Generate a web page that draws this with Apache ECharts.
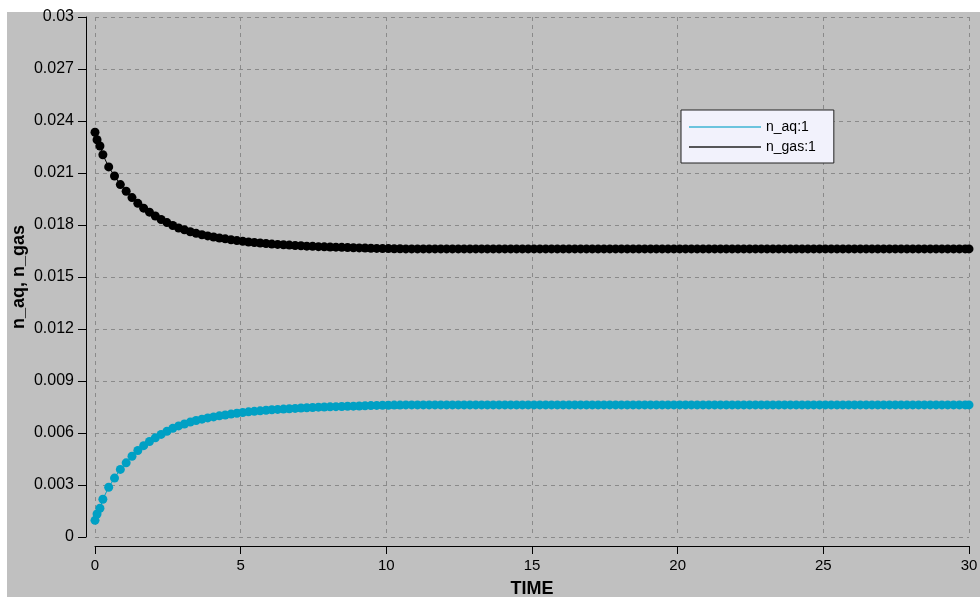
<!DOCTYPE html>
<html>
<head>
<meta charset="utf-8">
<script src="https://cdn.jsdelivr.net/npm/echarts@6/dist/echarts.min.js"></script>
<style>
html,body{margin:0;padding:0;background:#ffffff;}
#bg{position:absolute;left:7px;top:12px;width:973px;height:585px;background:#c0c0c0;}
#chart{position:absolute;left:0;top:0;width:980px;height:597px;}
</style>
</head>
<body>
<div id="bg"></div>
<div id="chart"></div>
<script>
const timeValues = [
0, 0.07, 0.17, 0.27, 0.47, 0.67, 0.87, 1.07, 1.27, 1.47,
1.67, 1.87, 2.07, 2.27, 2.47, 2.67, 2.87, 3.07, 3.27, 3.47,
3.67, 3.87, 4.07, 4.27, 4.47, 4.67, 4.87, 5.07, 5.27, 5.47,
5.67, 5.87, 6.07, 6.27, 6.47, 6.67, 6.87, 7.07, 7.27, 7.47,
7.67, 7.87, 8.07, 8.27, 8.47, 8.67, 8.87, 9.07, 9.27, 9.47,
9.67, 9.87, 10.07, 10.27, 10.47,
10.67, 10.87, 11.07, 11.27, 11.47, 11.67, 11.87, 12.07, 12.27, 12.47,
12.67, 12.87, 13.07, 13.27, 13.47, 13.67, 13.87, 14.07, 14.27, 14.47,
14.67, 14.87, 15.07, 15.27, 15.47, 15.67, 15.87, 16.07, 16.27, 16.47,
16.67, 16.87, 17.07, 17.27, 17.47, 17.67, 17.87, 18.07, 18.27, 18.47,
18.67, 18.87, 19.07, 19.27, 19.47, 19.67, 19.87, 20.07, 20.27, 20.47,
20.67, 20.87, 21.07, 21.27, 21.47, 21.67, 21.87, 22.07, 22.27, 22.47,
22.67, 22.87, 23.07, 23.27, 23.47, 23.67, 23.87, 24.07, 24.27, 24.47,
24.67, 24.87, 25.07, 25.27, 25.47, 25.67, 25.87, 26.07, 26.27, 26.47,
26.67, 26.87, 27.07, 27.27, 27.47, 27.67, 27.87, 28.07, 28.27, 28.47,
28.67, 28.87, 29.07, 29.27, 29.47, 29.67, 29.87, 30
];

const nGas = [
0.02335, 0.02292, 0.02256, 0.02205, 0.02135, 0.02083, 0.02033, 0.01995, 0.01958, 0.01925,
0.01897, 0.01874, 0.01852, 0.01832, 0.01814, 0.01797, 0.01783, 0.01772, 0.01761, 0.01752,
0.01744, 0.01737, 0.01731, 0.01725, 0.01720, 0.01715, 0.01710, 0.01706, 0.01702, 0.01699,
0.01696, 0.01693, 0.01690, 0.01688, 0.01686, 0.01684, 0.01682, 0.01680, 0.01678, 0.01677,
0.01675, 0.01674, 0.01673, 0.01672, 0.01671, 0.01670, 0.01669, 0.01668, 0.01667, 0.01666,
0.01665, 0.01664, 0.01664, 0.01663, 0.01663,
0.01662, 0.01662, 0.01662, 0.01662, 0.01662, 0.01662, 0.01662, 0.01662, 0.01662, 0.01662,
0.01662, 0.01662, 0.01662, 0.01662, 0.01662, 0.01662, 0.01662, 0.01662, 0.01662, 0.01662,
0.01662, 0.01662, 0.01662, 0.01662, 0.01662, 0.01662, 0.01662, 0.01662, 0.01662, 0.01662,
0.01662, 0.01662, 0.01662, 0.01662, 0.01662, 0.01662, 0.01662, 0.01662, 0.01662, 0.01662,
0.01662, 0.01662, 0.01662, 0.01662, 0.01662, 0.01662, 0.01662, 0.01662, 0.01662, 0.01662,
0.01662, 0.01662, 0.01662, 0.01662, 0.01662, 0.01662, 0.01662, 0.01662, 0.01662, 0.01662,
0.01662, 0.01662, 0.01662, 0.01662, 0.01662, 0.01662, 0.01662, 0.01662, 0.01662, 0.01662,
0.01662, 0.01662, 0.01662, 0.01662, 0.01662, 0.01662, 0.01662, 0.01662, 0.01662, 0.01662,
0.01662, 0.01662, 0.01662, 0.01662, 0.01662, 0.01662, 0.01662, 0.01662, 0.01662, 0.01662,
0.01662, 0.01662, 0.01662, 0.01662, 0.01662, 0.01662, 0.01662, 0.01662
];

const nAq = [
0.00096, 0.00133, 0.00166, 0.00218, 0.00287, 0.00340, 0.00390, 0.00428, 0.00466, 0.00499,
0.00527, 0.00551, 0.00572, 0.00592, 0.00610, 0.00627, 0.00641, 0.00652, 0.00663, 0.00672,
0.00680, 0.00687, 0.00693, 0.00699, 0.00704, 0.00709, 0.00714, 0.00718, 0.00722, 0.00725,
0.00728, 0.00731, 0.00734, 0.00736, 0.00738, 0.00740, 0.00742, 0.00744, 0.00746, 0.00747,
0.00749, 0.00750, 0.00751, 0.00752, 0.00753, 0.00754, 0.00755, 0.00756, 0.00757, 0.00758,
0.00759, 0.00760, 0.00760, 0.00761, 0.00761,
0.00762, 0.00762, 0.00762, 0.00762, 0.00762, 0.00762, 0.00762, 0.00762, 0.00762, 0.00762,
0.00762, 0.00762, 0.00762, 0.00762, 0.00762, 0.00762, 0.00762, 0.00762, 0.00762, 0.00762,
0.00762, 0.00762, 0.00762, 0.00762, 0.00762, 0.00762, 0.00762, 0.00762, 0.00762, 0.00762,
0.00762, 0.00762, 0.00762, 0.00762, 0.00762, 0.00762, 0.00762, 0.00762, 0.00762, 0.00762,
0.00762, 0.00762, 0.00762, 0.00762, 0.00762, 0.00762, 0.00762, 0.00762, 0.00762, 0.00762,
0.00762, 0.00762, 0.00762, 0.00762, 0.00762, 0.00762, 0.00762, 0.00762, 0.00762, 0.00762,
0.00762, 0.00762, 0.00762, 0.00762, 0.00762, 0.00762, 0.00762, 0.00762, 0.00762, 0.00762,
0.00762, 0.00762, 0.00762, 0.00762, 0.00762, 0.00762, 0.00762, 0.00762, 0.00762, 0.00762,
0.00762, 0.00762, 0.00762, 0.00762, 0.00762, 0.00762, 0.00762, 0.00762, 0.00762, 0.00762,
0.00762, 0.00762, 0.00762, 0.00762, 0.00762, 0.00762, 0.00762, 0.00762
];

const seriesNames = ['n_aq:1', 'n_gas:1'];
const xTitle = 'TIME';
const yTitle = 'n_aq, n_gas';

const FONT = '"Liberation Sans", Arial, sans-serif';
const aqColor = '#00a0c4';
const aqLegendColor = '#3fb4d4';
const gasColor = '#000000';

const chart = echarts.init(document.getElementById('chart'), null, {renderer: 'canvas'});

const zip = (xs, ys) => xs.map((x, i) => [x, ys[i]]);

const option = {
  animation: false,
  backgroundColor: 'transparent',
  textStyle: {fontFamily: FONT},
  grid: {left: 95, right: 11, top: 17, bottom: 60, containLabel: false, outerBoundsMode: 'none'},
  xAxis: {
    type: 'value', min: 0, max: 30, interval: 5,
    offset: 9,
    name: xTitle, nameLocation: 'middle', nameGap: 34, nameMoveOverlap: false,
    nameTextStyle: {fontFamily: FONT, fontSize: 18, fontWeight: 'bold', color: '#000'},
    axisLine: {show: true, onZero: false, lineStyle: {color: '#000', width: 1}},
    axisTick: {show: true, length: 8, lineStyle: {color: '#000'}},
    axisLabel: {fontFamily: FONT, fontSize: 15, color: '#000', margin: 12},
    splitLine: {show: true, lineStyle: {color: '#8a8a8a', type: [4, 4], width: 1}}
  },
  yAxis: {
    type: 'value', min: 0, max: 0.03, interval: 0.003,
    offset: 9,
    name: yTitle, nameLocation: 'middle', nameGap: 58, nameRotate: 90, nameMoveOverlap: false,
    nameTextStyle: {fontFamily: FONT, fontSize: 18, fontWeight: 'bold', color: '#000'},
    axisLine: {show: true, onZero: false, lineStyle: {color: '#000', width: 1}},
    axisTick: {show: true, length: 8, lineStyle: {color: '#000'}},
    axisLabel: {fontFamily: FONT, fontSize: 16, color: '#000', margin: 12,
      formatter: v => String(+v.toFixed(3))},
    splitLine: {show: true, lineStyle: {color: '#8a8a8a', type: [4, 4], width: 1}}
  },
  legend: {
    show: true, orient: 'vertical', left: 681, top: 110,
    backgroundColor: '#f2f2fc', borderColor: '#222', borderWidth: 1, borderRadius: 0,
    padding: [10, 18, 9, 8], itemGap: 6, itemWidth: 72, itemHeight: 1.4,
    icon: 'rect',
    textStyle: {fontFamily: FONT, fontSize: 14, color: '#000'},
    data: [
      {name: seriesNames[0], itemStyle: {color: aqLegendColor}},
      {name: seriesNames[1], itemStyle: {color: '#222'}}
    ]
  },
  series: [
    {
      name: seriesNames[0], type: 'line', data: zip(timeValues, nAq),
      symbol: 'circle', symbolSize: 9, showAllSymbol: true,
      itemStyle: {color: aqColor}, lineStyle: {color: aqColor, width: 1}
    },
    {
      name: seriesNames[1], type: 'line', data: zip(timeValues, nGas),
      symbol: 'circle', symbolSize: 9, showAllSymbol: true,
      itemStyle: {color: gasColor}, lineStyle: {color: gasColor, width: 1}
    }
  ]
};
chart.setOption(option);
</script>
</body>
</html>
